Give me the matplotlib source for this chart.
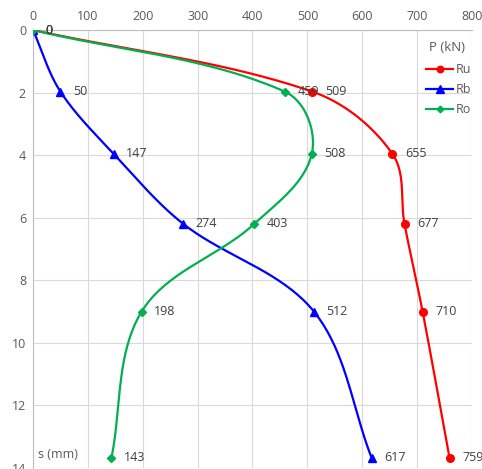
"Load - settlement chart (Ru, Rb, Ro) with Excel-style smoothed lines"

import matplotlib.pyplot as plt
import numpy as np
from matplotlib.lines import Line2D

settlement = [0, 1.97, 3.96, 6.2, 9.0, 13.67]
ru = [0, 509, 655, 677, 710, 759]
rb = [0, 50, 147, 274, 512, 617]
ro = [0, 459, 508, 403, 198, 143]

series_names = ["Ru", "Rb", "Ro"]
x_ticks = [0, 100, 200, 300, 400, 500, 600, 700, 800]
y_ticks = [0, 2, 4, 6, 8, 10, 12, 14]

#####
# Utils
#####

# approximate screen scale (px per data unit) so the smoothing looks like Excel's
XSCALE = 0.55
YSCALE = 31.3


def smooth(xs, ys, n=40):
    "Bezier through the points with tangents scaled to segment length, like Excel"
    p = np.column_stack([np.asarray(xs, float) * XSCALE, np.asarray(ys, float) * YSCALE])
    m = len(p)
    tang = np.zeros_like(p)
    for i in range(m):
        d = p[min(i + 1, m - 1)] - p[max(i - 1, 0)]
        tang[i] = d / np.hypot(*d)
    out = []
    t = np.linspace(0, 1, n)[:, None]
    for i in range(m - 1):
        p1, p2 = p[i], p[i + 1]
        L = np.hypot(*(p2 - p1))
        c1 = p1 + tang[i] * L / 3
        c2 = p2 - tang[i + 1] * L / 3
        seg = (1 - t) ** 3 * p1 + 3 * (1 - t) ** 2 * t * c1 + 3 * (1 - t) * t**2 * c2 + t**3 * p2
        out.append(seg)
    out = np.vstack(out)
    return out[:, 0] / XSCALE, out[:, 1] / YSCALE


def series(ax, xs, color, marker, ms, name):
    "Draws one smoothed series with markers and value labels"
    sx, sy = smooth(xs, settlement)
    ax.plot(sx, sy, color=color, lw=1.6, zorder=3)
    ax.plot(xs, settlement, ls="none", marker=marker, ms=ms, color=color, zorder=4)
    for x, y in zip(xs, settlement):
        ax.annotate(
            f"{x:g}", (x, y), xytext=(9, 0), textcoords="offset points",
            va="center", ha="left", fontsize=9, color="#404040", zorder=5,
        )
    return Line2D([], [], color=color, lw=1.6, marker=marker, ms=ms * 0.85, label=name)


#####
# Figure
#####

plt.rcParams["font.family"] = ["Open Sans", "DejaVu Sans"]
fig = plt.figure(figsize=(4.82, 4.69), dpi=100)
ax = fig.add_axes([33 / 482, 1 - 468 / 469, 439 / 482, 438 / 469])

handles = [
    series(ax, ru, "#ff0000", "o", 5.5, series_names[0]),
    series(ax, rb, "#0000ff", "^", 6, series_names[1]),
    series(ax, ro, "#00b050", "D", 4, series_names[2]),
]

ax.set_xlim(0, 800)
ax.set_ylim(14, 0)
ax.set_xticks(x_ticks)
ax.set_yticks(y_ticks)
ax.xaxis.tick_top()
ax.tick_params(length=0, labelsize=9, labelcolor="#595959", pad=5)
ax.grid(True, color="#d9d9d9", lw=0.8)
ax.set_axisbelow(True)
for side in ["right", "bottom"]:
    ax.spines[side].set_visible(False)
for side in ["left", "top"]:
    ax.spines[side].set_color("#bfbfbf")

ax.text(0.985, 0.975, "P (kN)", transform=ax.transAxes, ha="right", va="top",
        fontsize=9.5, color="#595959")
ax.text(0.012, 0.03, "s (mm)", transform=ax.transAxes, ha="left", va="center",
        fontsize=9, color="#595959")

leg = ax.legend(handles=handles, loc="upper right", bbox_to_anchor=(1.01, 0.935),
                frameon=False, fontsize=9, handlelength=2.2, handletextpad=0.2,
                labelspacing=0.55, borderaxespad=0)
for t in leg.get_texts():
    t.set_color("#595959")

plt.savefig("out.png", dpi=100)
